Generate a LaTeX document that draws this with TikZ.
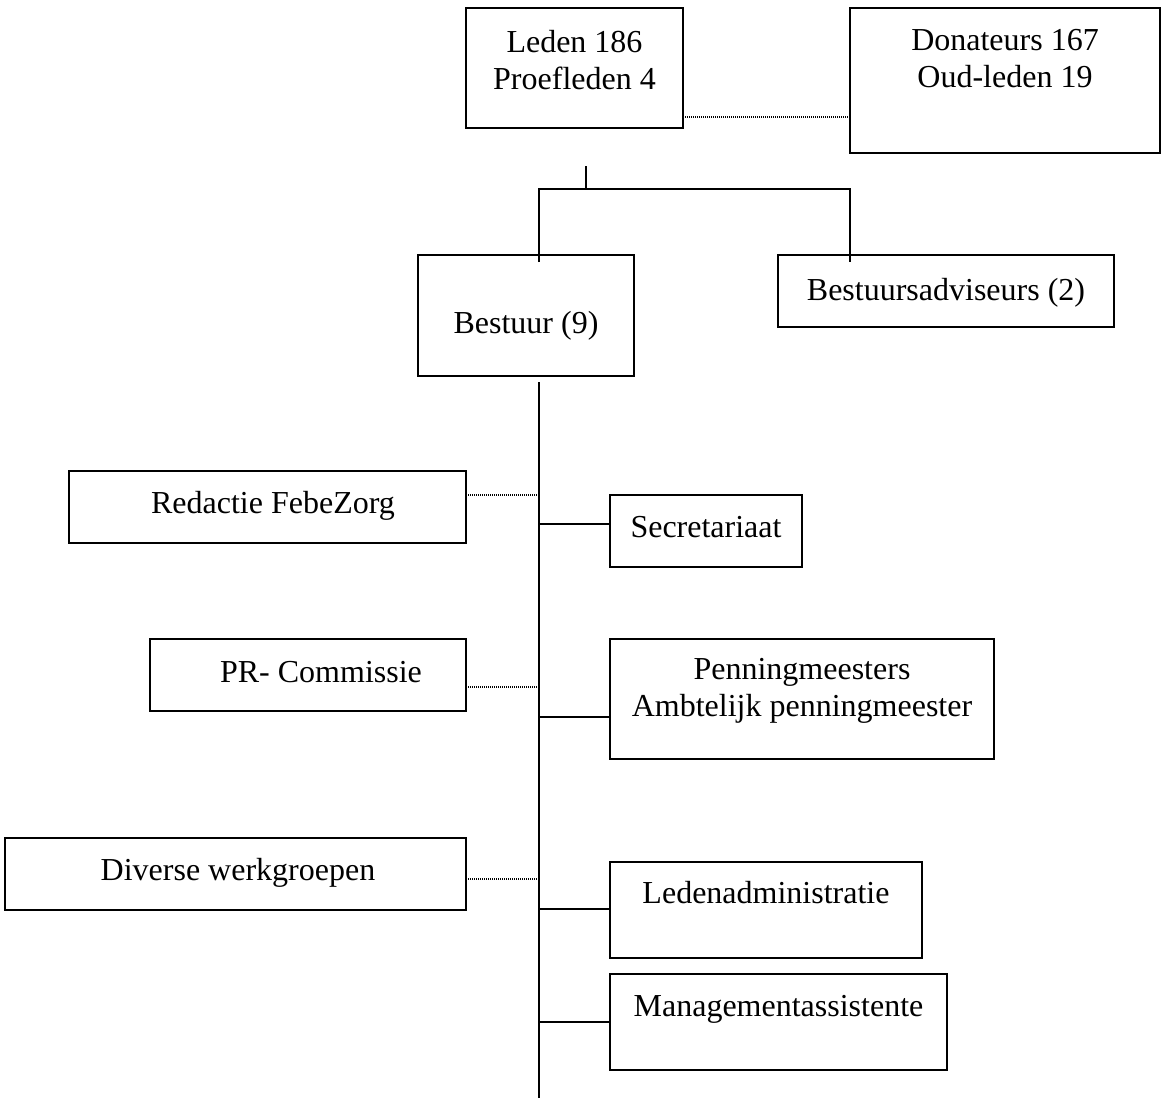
\documentclass[tikz,border=0pt]{standalone}
\usepackage{fontspec}
\setmainfont{Liberation Serif}
\begin{document}
\begin{tikzpicture}[x=1pt,y=-1pt,
  box/.style={draw, line width=2pt, rectangle, inner sep=0pt, outer sep=0pt},
  txt/.style={inner sep=0pt, anchor=base, align=center, font=\fontsize{32}{37}\selectfont},
  solidline/.style={line width=2pt},
  dotline/.style={line width=2pt, dash pattern=on 1pt off 1pt}]
\useasboundingbox (0,0) rectangle (1162,1098);
% boxes
\node[box, minimum width=217, minimum height=120] (leden) at (574.5,68) {};
\node[box, minimum width=310, minimum height=145] (donat) at (1005,80.5) {};
\node[box, minimum width=216, minimum height=121] (bestuur) at (526,315.5) {};
\node[box, minimum width=336, minimum height=72] (advis) at (946,291) {};
\node[box, minimum width=397, minimum height=72] (redactie) at (267.5,507) {};
\node[box, minimum width=192, minimum height=72] (secr) at (706,531) {};
\node[box, minimum width=316, minimum height=72] (pr) at (308,675) {};
\node[box, minimum width=384, minimum height=120] (penning) at (802,699) {};
\node[box, minimum width=461, minimum height=72] (divers) at (235.5,874) {};
\node[box, minimum width=312, minimum height=96] (ledadm) at (766,910) {};
\node[box, minimum width=337, minimum height=96] (mgmt) at (778.5,1022) {};
% texts (base = baseline of last line)
\node[txt] (tleden) at (574.5,89) {Leden 186\\Proefleden 4};
\node[txt] (tdonat) at (1005,87) {Donateurs 167\\Oud-leden 19};
\node[txt] (tbestuur) at (526,333) {Bestuur (9)};
\node[txt] (tadvis) at (946,300) {Bestuursadviseurs (2)};
\node[txt] (tredactie) at (273,513) {Redactie FebeZorg};
\node[txt] (tsecr) at (706,537) {Secretariaat};
\node[txt] (tpr) at (321,682) {PR- Commissie};
\node[txt] (tpenning) at (802,716) {Penningmeesters\\Ambtelijk penningmeester};
\node[txt] (tdivers) at (238,880) {Diverse werkgroepen};
\node[txt] (tledadm) at (766,903) {Ledenadministratie};
\node[txt] (tmgmt) at (778.5,1016) {Managementassistente};
% tree
\coordinate (tick) at (586,166);
\coordinate (j) at (586,189);
\coordinate (bd) at (539,262);
\coordinate (ad) at (850,262);
\draw[dotline] (leden.east |- 0,117) -- (donat.west |- 0,117);
\draw[solidline] (tick) -- (j);
\draw[solidline] (bd) -- (bd |- j) -- (ad |- j) -- (ad);
\coordinate (s0) at (539,382);
\coordinate (s1) at (539,1098);
\draw[solidline] (s0) -- (s1);
\draw[dotline] (redactie.east |- 0,495) -- (s0 |- 0,495);
\draw[dotline] (pr.east |- 0,687) -- (s0 |- 0,687);
\draw[dotline] (divers.east |- 0,879) -- (s0 |- 0,879);
\draw[solidline] (s0 |- 0,524) -- (secr.west |- 0,524);
\draw[solidline] (s0 |- 0,717) -- (penning.west |- 0,717);
\draw[solidline] (s0 |- 0,909) -- (ledadm.west |- 0,909);
\draw[solidline] (s0 |- 0,1022) -- (mgmt.west |- 0,1022);
\end{tikzpicture}
\end{document}
